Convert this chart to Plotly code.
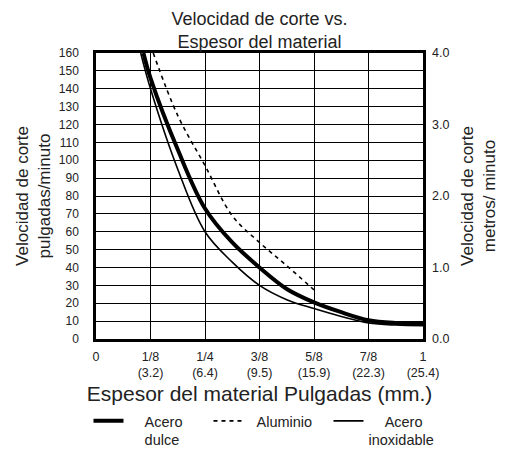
import plotly.graph_objects as go

# --- data ---
x_positions = [0, 1, 2, 3, 4, 5, 6]
x_labels = ["0", "1/8<br>(3.2)", "1/4<br>(6.4)", "3/8<br>(9.5)",
            "5/8<br>(15.9)", "7/8<br>(22.3)", "1<br>(25.4)"]

y_left_ticks = list(range(0, 161, 10))
y_right_ticks = [0, 1, 2, 3, 4]
y_right_labels = ["0.0", "1.0", "2.0", "3.0", "4.0"]

dulce_x = [0.87, 1.0, 1.5, 2.0, 2.5, 3.0, 3.5, 4.0, 4.5, 5.0, 5.5, 6.0]
dulce_y = [160, 146, 106, 73, 54, 40, 28, 20.5, 15, 10.5, 9.0, 8.7]

alu_x = [1.05, 1.5, 2.0, 2.5, 3.0, 3.5, 4.0]
alu_y = [160, 125, 97, 69, 54, 41, 27.5]

inox_x = [0.82, 1.0, 1.5, 2.0, 2.5, 3.0, 3.5, 4.0, 4.5, 5.0, 5.5, 6.0]
inox_y = [160, 140, 95, 60, 43, 30, 22, 17, 12.6, 9.0, 7.8, 7.4]

FONT = "Liberation Sans, Arial, Helvetica, sans-serif"
NB = "\u00a0"

fig = go.Figure()
fig.add_trace(go.Scatter(
    x=dulce_x, y=dulce_y, mode="lines", legend="legend",
    name=NB * 4 + "Acero<br>" + NB * 4 + "dulce",
    line=dict(color="black", width=4, shape="spline", smoothing=1)))
fig.add_trace(go.Scatter(
    x=alu_x, y=alu_y, mode="lines", legend="legend2", name=NB * 2 + "Aluminio",
    line=dict(color="black", width=1.6, dash="4px,4px", shape="spline", smoothing=1)))
fig.add_trace(go.Scatter(
    x=inox_x, y=inox_y, mode="lines", legend="legend3",
    name=NB * 4 + "Acero<br>inoxidable",
    line=dict(color="black", width=1.6, shape="spline", smoothing=1)))
# empty trace to activate the right-hand axis
fig.add_trace(go.Scatter(x=[], y=[], yaxis="y2", showlegend=False, hoverinfo="skip"))

legend_common = dict(orientation="h", xref="container", xanchor="left",
                     yref="container", y=0.106, yanchor="top", valign="top",
                     itemwidth=30, font=dict(size=14.5, color="#222"),
                     bgcolor="rgba(0,0,0,0)")

fig.update_layout(
    width=498, height=444,
    margin=dict(l=87.5, r=82.7, t=45.3, b=113, autoexpand=False),
    paper_bgcolor="white", plot_bgcolor="white",
    font=dict(family=FONT, color="#222", size=12),
    title=dict(text="Velocidad de corte vs.<br>Espesor del material",
               x=0.5, xref="paper", xanchor="center",
               y=0.962, yref="container", yanchor="top",
               font=dict(size=18, color="#222"), automargin=False),
    xaxis=dict(range=[0, 6], tickmode="array", tickvals=x_positions, ticktext=x_labels,
               showgrid=True, gridcolor="black", gridwidth=1,
               showline=True, linecolor="black", linewidth=2.5, mirror=True,
               zeroline=False, ticks="", tickfont=dict(size=12.5, color="#222"),
               ticklabelstandoff=4, automargin=False,
               title=dict(text="Espesor del material Pulgadas (mm.)",
                          font=dict(size=21, color="#222"), standoff=11)),
    yaxis=dict(range=[0, 160], tickmode="array", tickvals=y_left_ticks,
               showgrid=True, gridcolor="black", gridwidth=1,
               showline=True, linecolor="black", linewidth=2.5, mirror=True,
               zeroline=False, ticks="", tickfont=dict(size=12, color="#222"),
               ticklabelstandoff=12, automargin=False,
               title=dict(text="Velocidad de corte<br>pulgadas/minuto",
                          font=dict(size=17, color="#222"), standoff=4)),
    yaxis2=dict(range=[0, 4], overlaying="y", side="right", tickmode="array",
                tickvals=y_right_ticks, ticktext=y_right_labels,
                showgrid=False, zeroline=False, showline=False, ticks="",
                tickfont=dict(size=12.5, color="#222"), ticklabelstandoff=8,
                automargin=False,
                title=dict(text="Velocidad de corte<br>metros/ minuto",
                           font=dict(size=17, color="#222"), standoff=12)),
    legend=dict(x=0.1616, **legend_common),
    legend2=dict(x=0.4026, **legend_common),
    legend3=dict(x=0.6436, **legend_common),
    showlegend=True,
)

fig.write_html("out.html")
